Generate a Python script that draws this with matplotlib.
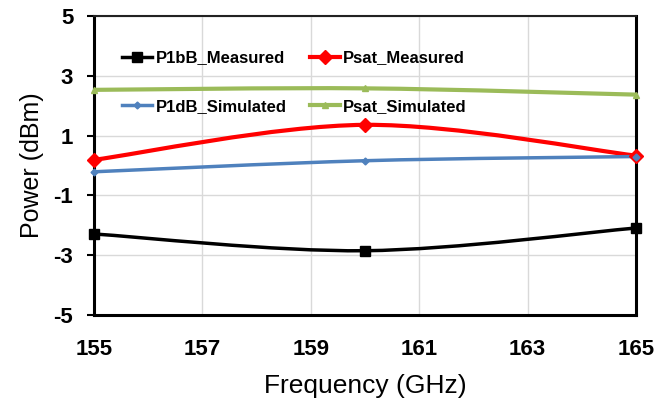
import matplotlib.pyplot as plt
from matplotlib.path import Path
from matplotlib.patches import PathPatch
from matplotlib.lines import Line2D

plt.rcParams['font.family'] = ['Liberation Sans', 'DejaVu Sans']
plt.rcParams['axes.unicode_minus'] = False

# Frequency points (GHz) and measured / simulated power (dBm)
freq = [155, 160, 165]
p1db_measured = [-2.29, -2.85, -2.09]
psat_measured = [0.19, 1.36, 0.33]
p1db_simulated = [-0.21, 0.16, 0.30]
psat_simulated = [2.53, 2.58, 2.37]

x_ticks = [155, 157, 159, 161, 163, 165]
y_ticks = [-5, -3, -1, 1, 3, 5]


def smooth_path(x, y):
    # Excel-style smoothed line: cubic Bezier through the points
    pts = list(zip(x, y))
    verts = [pts[0]]
    codes = [Path.MOVETO]
    n = len(pts)
    for i in range(n - 1):
        p0 = pts[i - 1] if i > 0 else pts[i]
        p1 = pts[i]
        p2 = pts[i + 1]
        p3 = pts[i + 2] if i + 2 < n else pts[i + 1]
        c1 = (p1[0] + (p2[0] - p0[0]) / 6, p1[1] + (p2[1] - p0[1]) / 6)
        c2 = (p2[0] - (p3[0] - p1[0]) / 6, p2[1] - (p3[1] - p1[1]) / 6)
        verts += [c1, c2, p2]
        codes += [Path.CURVE4] * 3
    return Path(verts, codes)


fig = plt.figure(figsize=(6.67, 4), dpi=100)
ax = fig.add_axes([0.141, 0.2125, 0.8126, 0.7475])

series = [
    (p1db_measured, 'black', 's', 7, 2.5, 'P1bB_Measured'),
    (psat_measured, '#FF0000', 'D', 7, 3, 'Psat_Measured'),
    (p1db_simulated, '#4F81BD', 'D', 3.5, 2.5, 'P1dB_Simulated'),
    (psat_simulated, '#9BBB59', '^', 5, 3, 'Psat_Simulated'),
]

handles = []
for vals, color, marker, ms, lw, label in series:
    ax.add_patch(PathPatch(smooth_path(freq, vals), fill=False, edgecolor=color,
                           linewidth=lw, zorder=3, clip_on=False))
    ax.plot(freq, vals, linestyle='none', marker=marker, markersize=ms,
            color=color, zorder=4, clip_on=False)
    handles.append(Line2D([], [], color=color, marker=marker, markersize=ms,
                          linewidth=lw, label=label))

ax.set_xlim(155, 165)
ax.set_ylim(-5, 5)
ax.set_xticks(x_ticks)
ax.set_yticks(y_ticks)
ax.grid(True, color='#D9D9D9', linewidth=1, zorder=0)
ax.set_axisbelow(True)

for side in ['left', 'bottom', 'right']:
    ax.spines[side].set_linewidth(2.2)
    ax.spines[side].set_color('black')
ax.spines['top'].set_linewidth(1.5)
ax.spines['top'].set_color('#222222')

ax.tick_params(axis='y', length=5, width=1.5, pad=10, labelsize=16)
ax.tick_params(axis='x', length=0, pad=17.5, labelsize=16)
for lbl in ax.get_xticklabels() + ax.get_yticklabels():
    lbl.set_fontweight('bold')

ax.set_xlabel("Frequency (GHz)", fontsize=19, labelpad=10)
ax.set_ylabel("Power (dBm)", fontsize=18, labelpad=7)

# legend fills column-wise: reorder so rows read measured / simulated
order = [0, 2, 1, 3]
leg = ax.legend(handles=[handles[i] for i in order], ncol=2, loc='upper left',
                bbox_to_anchor=(0.052, 0.885), frameon=False, borderpad=0,
                borderaxespad=0, handlelength=1.8, handletextpad=0.2,
                columnspacing=1.4, labelspacing=2.0,
                prop={'size': 12, 'weight': 'bold'})

plt.savefig("out.png", dpi=100)
